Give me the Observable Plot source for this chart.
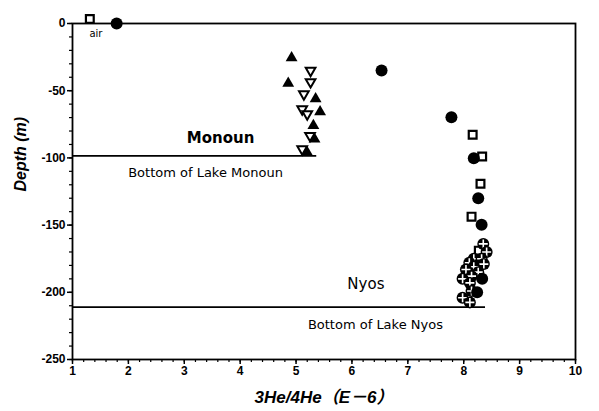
<!DOCTYPE html>
<html><head><meta charset="utf-8">
<script src="https://cdn.jsdelivr.net/npm/d3@7"></script>
<script src="https://cdn.jsdelivr.net/npm/@observablehq/plot@0.6"></script>
<style>
body{margin:0;background:#fff;}
#chart svg{display:block;}
</style>
</head><body><div id="chart"></div>
<script>
// Monoun: filled up-triangles and open down-triangles [ratio, depth]
const monounFilledTri = [[4.92,-25.5],[4.86,-44.5],[5.35,-56],[5.43,-65.7],[5.31,-76],[5.33,-86],[5.20,-96]];
const monounOpenTri = [[5.26,-35],[5.26,-43.5],[5.14,-52.5],[5.11,-63.7],[5.20,-67.4],[5.25,-83.5],[5.11,-93.4]];
// Nyos: filled circles, open squares, crossed circles
const filledCircles = [[1.79,0],[6.53,-35],[7.78,-69.8],[8.18,-100.3],[8.26,-130],[8.32,-149.7],[8.33,-190],[8.24,-200]];
const openSquares = [[1.31,3.3],[8.16,-82.8],[8.33,-99],[8.30,-119.2],[8.14,-143.7],[8.27,-169]];
const crossedCircles = [[8.35,-164],[8.41,-170],[8.18,-175],[8.32,-175],[8.10,-178],[8.36,-179],[8.18,-181],[8.04,-183],[8.26,-185],[8.14,-188],[7.98,-190],[8.11,-193],[8.14,-199],[7.98,-204],[8.11,-207.5]];
// Lake bottoms
const bottomNames = ["Monoun", "Nyos"];
const bottomDepths = [-98.5, -211];
const bottomEnds = [5.37, 8.39];
// Annotations
const noteTexts = ["Monoun", "Bottom of Lake Monoun", "Nyos", "Bottom of Lake Nyos", "air"];
const noteX = [3.65, 3.38, 6.25, 6.42, 1.42];
const noteY = [-85.7, -111, -194, -224, -8];
const noteSize = [15, 13, 15, 13, 10];
const noteWeight = ["bold", "normal", "normal", "normal", "normal"];
// Axes
const xTicks = [1,2,3,4,5,6,7,8,9,10];
const yTicks = [0,-50,-100,-150,-200,-250];
const xMinor = d3.range(1, 10.001, 0.2);
const yMinor = d3.range(0, -250.001, -10);
const xTitle = "3He/4He（E－6）";
const yTitle = "Depth (m)";

const pts = a => a.map(([x, y]) => ({x, y}));
const bottoms = bottomNames.map((n, i) => ({name: n, y: bottomDepths[i], x1: 1, x2: bottomEnds[i]}));
const notes = noteTexts.map((t, i) => ({t, x: noteX[i], y: noteY[i], s: noteSize[i], w: noteWeight[i]}));
const noteFont = "'DejaVu Sans', sans-serif";

const crossedMarks = pts(crossedCircles).flatMap(d => [
  Plot.dot([d], {x: "x", y: "y", r: 6, fill: "black"}),
  Plot.dot([d], {x: "x", y: "y", symbol: "plus", r: 3, stroke: "white", strokeWidth: 1.6})
]);

const chart = Plot.plot({
  width: 599, height: 411,
  marginLeft: 72, marginRight: 24, marginTop: 23, marginBottom: 52,
  style: {fontFamily: "'Liberation Sans', Arial, sans-serif", background: "white", color: "black", overflow: "visible"},
  x: {domain: [1, 10]},
  y: {domain: [-250, 0]},
  marks: [
    Plot.axisX(xMinor, {tickSize: 3, tickFormat: () => "", label: null, strokeWidth: 1.2}),
    Plot.axisX(xTicks, {tickSize: 5, tickPadding: 2, fontSize: 12, fontWeight: "bold", label: null, strokeWidth: 1.5, tickFormat: d => String(d)}),
    Plot.axisY(yMinor, {tickSize: 3, tickFormat: () => "", label: null, strokeWidth: 1.2}),
    Plot.axisY(yTicks, {tickSize: 5, tickPadding: 2, fontSize: 12, fontWeight: "bold", label: null, strokeWidth: 1.5, tickFormat: d => String(d)}),
    Plot.frame({stroke: "black", strokeWidth: 1.8}),
    Plot.ruleY(bottoms, {y: "y", x1: "x1", x2: "x2", stroke: "black", strokeWidth: 1.6}),
    Plot.text(notes.filter(d => d.w === "bold"), {x: "x", y: "y", text: "t", fontSize: 15, fontWeight: "bold", fill: "black", fontFamily: noteFont}),
    Plot.text(notes.filter(d => d.w !== "bold" && d.s === 15), {x: "x", y: "y", text: "t", fontSize: 15, fill: "black", fontFamily: noteFont}),
    Plot.text(notes.filter(d => d.s === 13), {x: "x", y: "y", text: "t", fontSize: 13, fill: "black", fontFamily: noteFont}),
    Plot.text(notes.filter(d => d.s === 10), {x: "x", y: "y", text: "t", fontSize: 10, fill: "black", fontFamily: noteFont}),
    Plot.dot(pts(monounFilledTri), {x: "x", y: "y", symbol: "triangle", r: 4.4, fill: "black"}),
    Plot.dot(pts(monounOpenTri), {x: "x", y: "y", symbol: "triangle", rotate: 180, r: 3.6, fill: "white", stroke: "black", strokeWidth: 2}),
    Plot.dot(pts(openSquares), {x: "x", y: "y", symbol: "square", r: 4.4, fill: "white", stroke: "black", strokeWidth: 2.2}),
    ...crossedMarks,
    Plot.dot(pts(filledCircles), {x: "x", y: "y", r: 6, fill: "black"}),
    Plot.text([xTitle], {frameAnchor: "bottom", dy: 43, fontSize: 17, fontWeight: "bold", fontStyle: "italic", fill: "black", fontFamily: "'Liberation Sans', 'Noto Sans CJK JP', sans-serif"}),
    Plot.text([yTitle], {frameAnchor: "left", dx: -52, rotate: -90, fontSize: 16, fontWeight: "bold", fontStyle: "italic", fill: "black"})
  ]
});
document.getElementById("chart").appendChild(chart);
</script>
</body></html>
